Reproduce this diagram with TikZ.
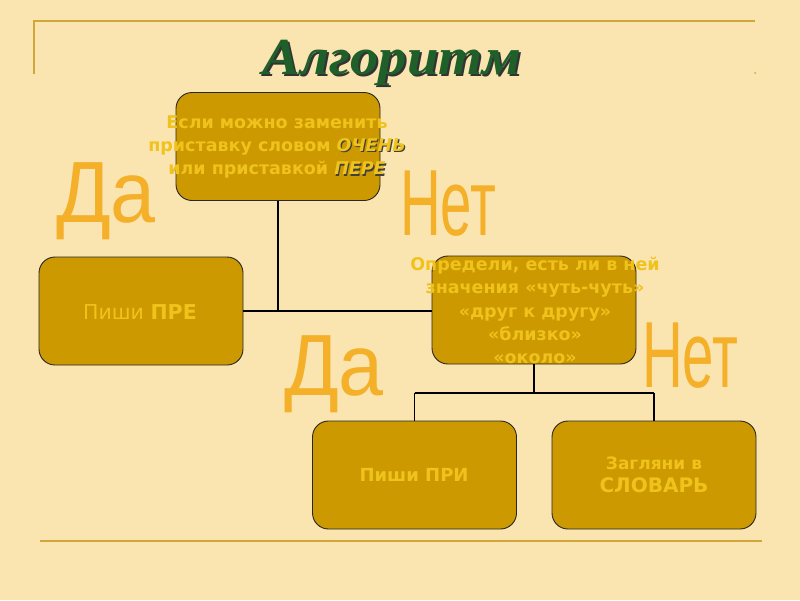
\documentclass[tikz,border=0pt]{standalone}
\usepackage{fontspec}
\setmainfont{DejaVu Sans}
\newfontfamily\titlefont{Liberation Serif}
\newfontfamily\bigfont{Liberation Sans}
\definecolor{bgc}{HTML}{FAE5B0}
\definecolor{boxc}{HTML}{CC9A00}
\definecolor{txtc}{HTML}{F0C21C}
\definecolor{rulec}{HTML}{D2A63A}
\definecolor{greenc}{HTML}{1F5F2A}
\definecolor{ync}{HTML}{F5B02A}
\newcommand{\shadtxt}[1]{\makebox[0pt][l]{\hspace{1.2pt}\raisebox{-1.2pt}{\color{black!75}#1}}#1}
\newcommand{\ynword}[2]{\scalebox{#1}[1]{#2}}
\tikzset{
  bx/.style={draw=black!85, line width=0.9pt, fill=boxc, rounded corners=16pt,
    minimum width=204pt, minimum height=108pt, inner sep=0pt},
  btxt/.style={text=txtc, align=center, font=\fontsize{17.5}{23.3}\selectfont\bfseries, inner sep=0pt},
  conn/.style={draw=black, line width=1.6pt},
  rule/.style={draw=rulec, line width=2pt},
  yn/.style={text=ync, inner sep=0pt, anchor=base west},
}
\begin{document}
\begin{tikzpicture}[x=1pt,y=-1pt]
\fill[bgc] (0,0) rectangle (800,600);
\useasboundingbox (0,0) rectangle (800,600);
% frame rules
\draw[rule] (34,74) -- (34,21) -- (755,21);
\fill[rulec] (755,73) circle (1pt);
\draw[rule] (40,541) -- (762,541);
% title
\node[inner sep=0pt, anchor=base, font=\titlefont\fontsize{52}{52}\selectfont\bfseries\itshape] (title) at (392,74)
  {\scalebox{1.09}[1]{\makebox[0pt][l]{\hspace{2pt}\raisebox{-2pt}{\color{black!80}Алгоритм}}\color{greenc}Алгоритм}};
% boxes
\node[bx] (b1) at (278,146.5) {};
\node[bx] (pre) at (141,311) {};
\node[bx] (b2) at (534,310) {};
\node[bx] (pri) at (414.5,475) {};
\node[bx] (slov) at (654,475) {};
% texts
\node[btxt] (t1) at (277,147) {Если можно заменить\\приставку словом \shadtxt{\itshape ОЧЕНЬ}\\или приставкой \shadtxt{\itshape ПЕРЕ}};
\node[btxt, font=\fontsize{20.5}{24}\selectfont] (tpre) at (140,312) {Пиши \textbf{ПРЕ}};
\node[btxt] (t2) at (535,310.5) {Определи, есть ли в ней\\значения «чуть-чуть»\\«друг к другу»\\«близко»\\«около»};
\node[btxt, font=\fontsize{18}{24}\selectfont\bfseries] (tpri) at (414,475) {Пиши ПРИ};
\node[btxt] (tslov) at (654,475) {\fontsize{17}{24}\selectfont Загляни в\\\fontsize{20}{24}\selectfont СЛОВАРЬ};
% connectors
\coordinate (j1) at (278,311);
\draw[conn] (b1.south) -- (j1);
\draw[conn] (pre.east) -- (pre.east -| b2.west);
\coordinate (j2) at (534,393);
\draw[conn] (b2.south) -- (j2);
\draw[conn] (pri.north |- j2) -- (slov.north |- j2);
\draw[conn] (pri.north |- j2) -- (pri.north);
\draw[conn] (slov.north |- j2) -- (slov.north);
% yes / no labels
\node[yn, font=\bigfont\fontsize{87}{87}\selectfont] (da1) at (56,222) {\ynword{0.93}{Да}};
\node[yn, font=\bigfont\fontsize{87}{87}\selectfont] (da2) at (284,395) {\ynword{0.93}{Да}};
\node[yn, font=\bigfont\fontsize{94}{94}\selectfont] (net1) at (400,235) {\ynword{0.6}{Нет}};
\node[yn, font=\bigfont\fontsize{94}{94}\selectfont] (net2) at (642,387) {\ynword{0.6}{Нет}};
\end{tikzpicture}
\end{document}
